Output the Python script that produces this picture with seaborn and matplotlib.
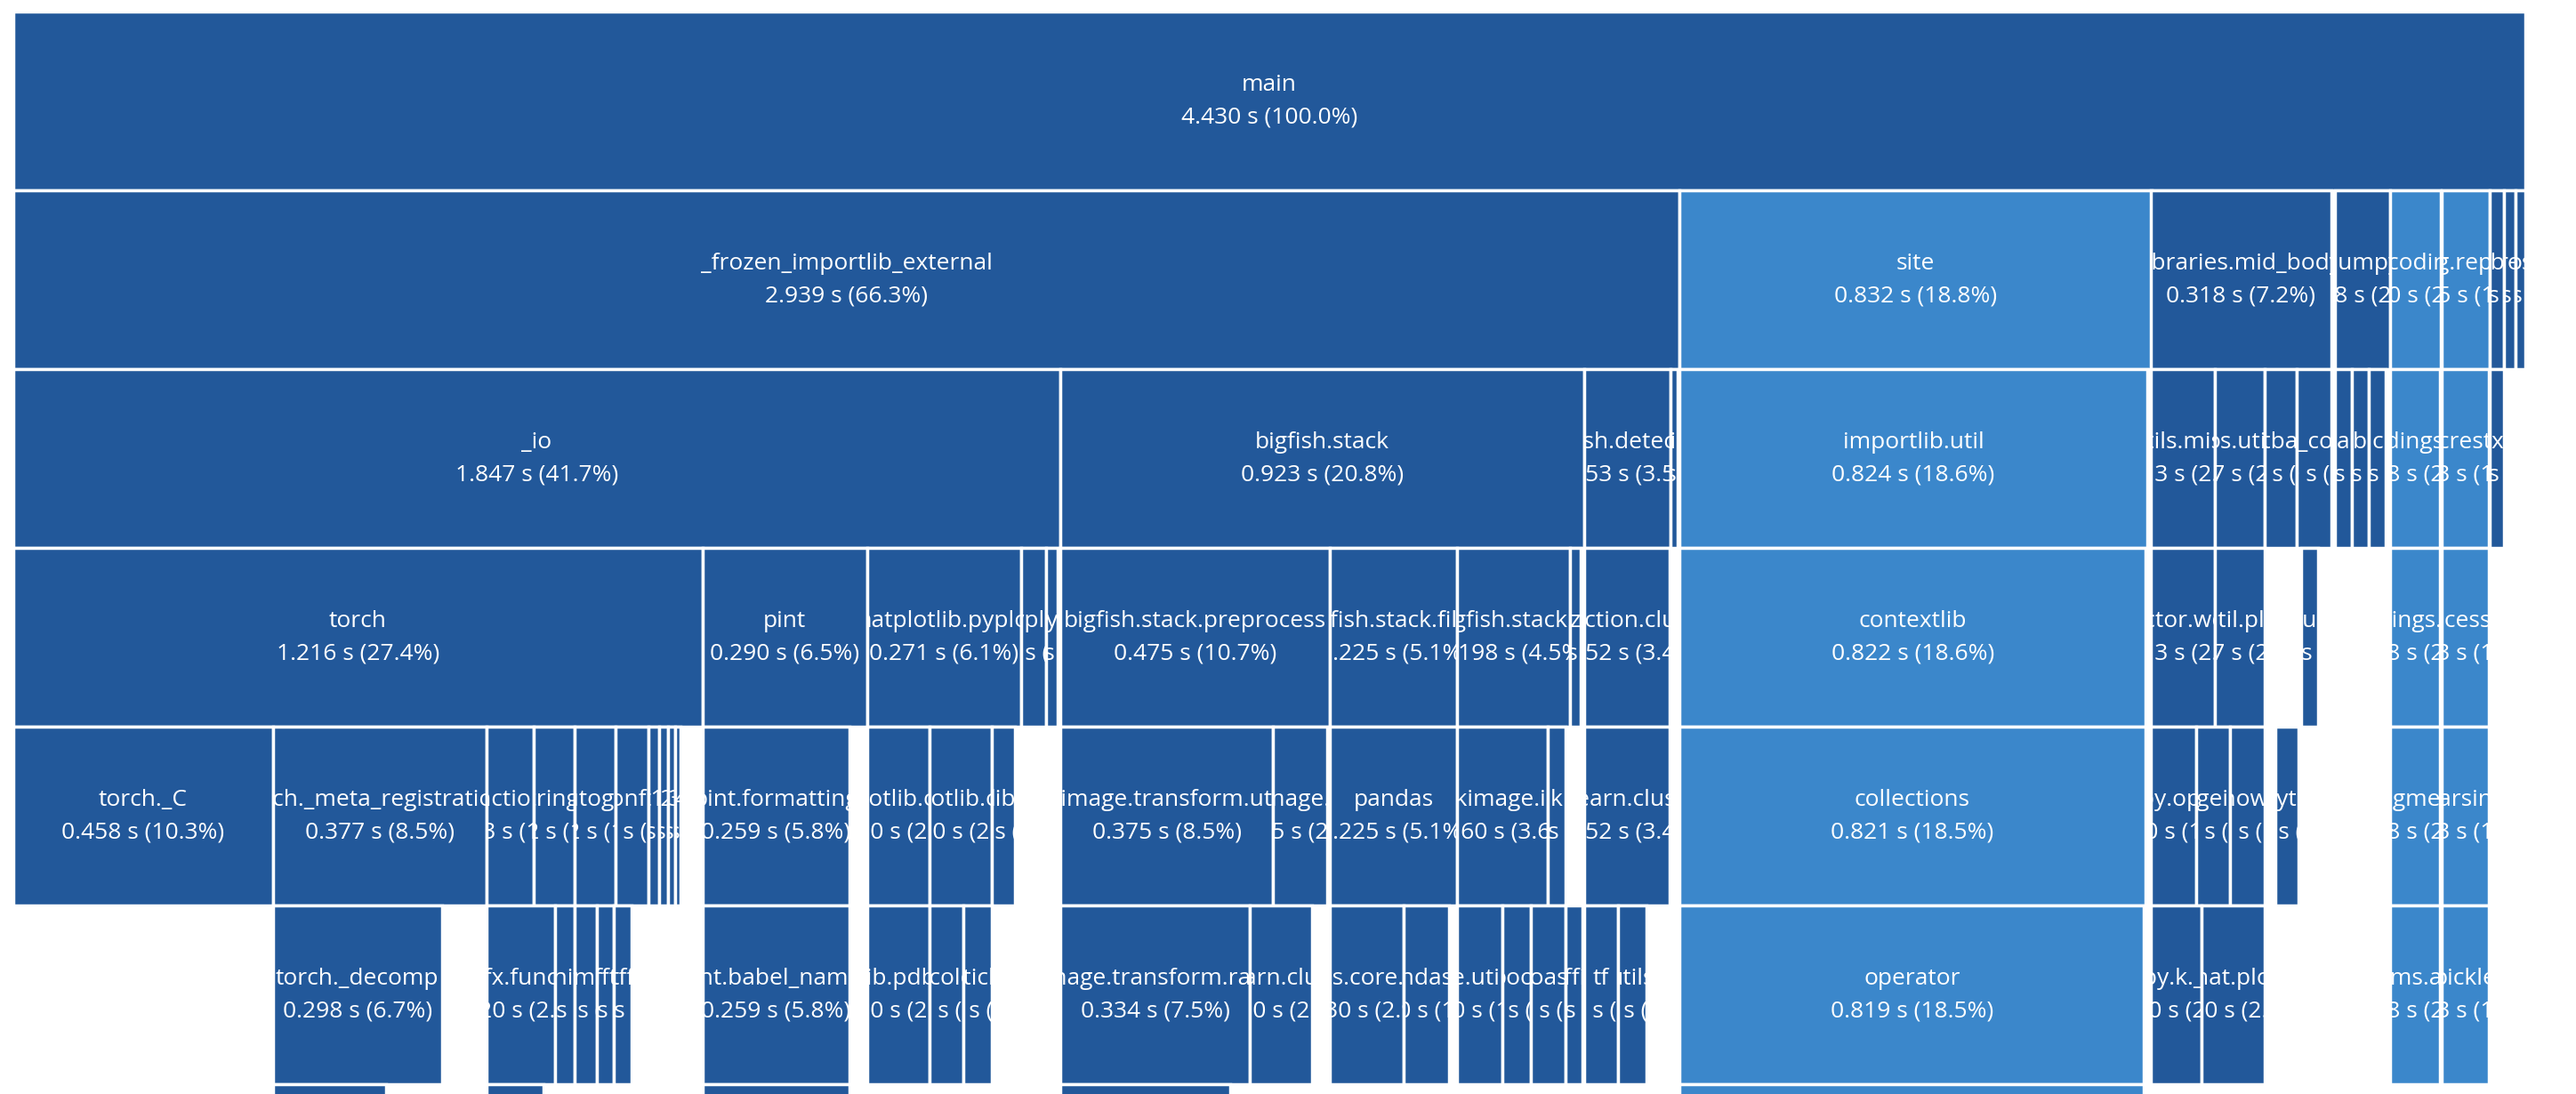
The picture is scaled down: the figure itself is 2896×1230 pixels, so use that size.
import matplotlib
matplotlib.use("Agg")
import matplotlib.pyplot as plt
import seaborn as sns
from matplotlib.transforms import Bbox, TransformedBbox

sns.set_style("white")
plt.rcParams['font.family'] = ['Open Sans', 'DejaVu Sans']

TOTAL = 4.430
names = ["main",
 "_frozen_importlib_external", "site", "libraries.mid_body", "numpy", "encodings", "config.reporter", "abc", "re", "os",
 "_io", "bigfish.stack", "bigfish.detection", "misc", "importlib.util", "utils.misc", "os.util", "actbase", "_q_core", "a", "b", "c", "encodings.idna", "procrestore", "x",
 "torch", "pint", "matplotlib.pyplot", "pyplot", "y", "bigfish.stack.preprocess", "bigfish.stack.filter", "bigfish.stack.io", "z", "detection.cluster", "contextlib",
 "detector.worker", "util.plr", "hun", "encodings.codes", "processing",
 "torch._C", "torch._meta_registrations", "functional", "strings", "eautograd", "config", "t1", "t2", "t3", "t4",
 "pint.formatting", "matplotlib.cbook", "matplotlib.colors", "lib", "skimage.transform.utils", "skimage.util", "pandas", "skimage.io", "k", "sklearn.cluster", "collections",
 "numpy.optrace", "ugeio", "shown", "pyth", "augment", "parsing",
 "torch._decomp", "torch.fx.functional", "init", "amp", "fft", "tff", "pint.babel_names", "lib.pdb", "lib.colors", "lib.ticker",
 "skimage.transform.radon", "sklearn.cluster", "pandas.core.series", "pandas.io", "re.utils", "bool", "coast", "tifffile", "tf", "utils", "operator",
 "numpy.k._trace", "format.plotter", "items.abc", "pickle",
 "torch._prims", "torch.fx", "pint.babel", "skimage.filters", "functools"]
starts = [0,
 0, 2.939, 3.770, 4.094, 4.192, 4.283, 4.368, 4.393, 4.413,
 0, 1.847, 2.770, 2.923, 2.939, 3.770, 3.883, 3.970, 4.028, 4.094, 4.124, 4.154, 4.192, 4.283, 4.368,
 0, 1.216, 1.506, 1.777, 1.822, 1.847, 2.322, 2.547, 2.745, 2.770, 2.939,
 3.770, 3.883, 4.035, 4.192, 4.283,
 0, 0.458, 0.835, 0.918, 0.990, 1.062, 1.120, 1.140, 1.155, 1.167,
 1.216, 1.506, 1.616, 1.726, 1.847, 2.222, 2.322, 2.547, 2.707, 2.770, 2.939,
 3.770, 3.850, 3.910, 3.990, 4.192, 4.283,
 0.458, 0.835, 0.955, 0.990, 1.030, 1.060, 1.216, 1.506, 1.616, 1.676,
 1.847, 2.181, 2.322, 2.452, 2.547, 2.627, 2.677, 2.737, 2.770, 2.830, 2.939,
 3.770, 3.860, 4.192, 4.283,
 0.458, 0.835, 1.216, 1.847, 2.939]
values = [4.430,
 2.939, 0.832, 0.318, 0.098, 0.090, 0.085, 0.025, 0.020, 0.017,
 1.847, 0.923, 0.153, 0.012, 0.824, 0.113, 0.087, 0.058, 0.060, 0.030, 0.030, 0.030, 0.088, 0.083, 0.025,
 1.216, 0.290, 0.271, 0.045, 0.020, 0.475, 0.225, 0.198, 0.020, 0.152, 0.822,
 0.113, 0.087, 0.030, 0.088, 0.083,
 0.458, 0.377, 0.083, 0.072, 0.072, 0.058, 0.020, 0.015, 0.012, 0.010,
 0.259, 0.110, 0.110, 0.040, 0.375, 0.095, 0.225, 0.160, 0.030, 0.152, 0.821,
 0.080, 0.060, 0.060, 0.040, 0.088, 0.083,
 0.298, 0.120, 0.035, 0.040, 0.030, 0.030, 0.259, 0.110, 0.060, 0.050,
 0.334, 0.110, 0.130, 0.080, 0.080, 0.050, 0.060, 0.030, 0.060, 0.050, 0.819,
 0.090, 0.110, 0.088, 0.083,
 0.200, 0.100, 0.259, 0.300, 0.819]
depths = [0] + [1]*9 + [2]*15 + [3]*11 + [3]*5 + [4]*10 + [4]*11 + [4]*6 + [5]*10 + [5]*11 + [5]*4 + [6]*5
light_names = {"site", "encodings", "config.reporter", "importlib.util", "encodings.idna", "procrestore",
               "contextlib", "encodings.codes", "processing", "collections", "augment", "parsing",
               "operator", "items.abc", "pickle", "functools"}
DARK, LIGHT = "#22589a", "#3b87cb"
colors = [LIGHT if n in light_names else DARK for n in names]

fig = plt.figure(figsize=(28.96, 12.30), dpi=100)
ax = fig.add_axes([8/1568, 0, 1529/1568, 1])
ax.barh(depths, values, left=starts, height=1.0, align="edge", color=colors,
        edgecolor="white", linewidth=2.5)
ax.set_xlim(0, TOTAL)
ax.set_ylim(6.055, -0.064)
ax.axis("off")

for n, s, v, d in zip(names, starts, values, depths):
    txt = f"{n}\n{v:.3f} s ({100*v/TOTAL:.1f}%)"
    t = ax.text(s + v/2, d + 0.5, txt, ha="center", va="center", color="white",
                fontsize=19, linespacing=1.6, clip_on=True)
    t.set_clip_box(TransformedBbox(Bbox([[s, d], [s + v, d + 1]]), ax.transData))

fig.savefig("out.png", dpi=100, facecolor="white")
